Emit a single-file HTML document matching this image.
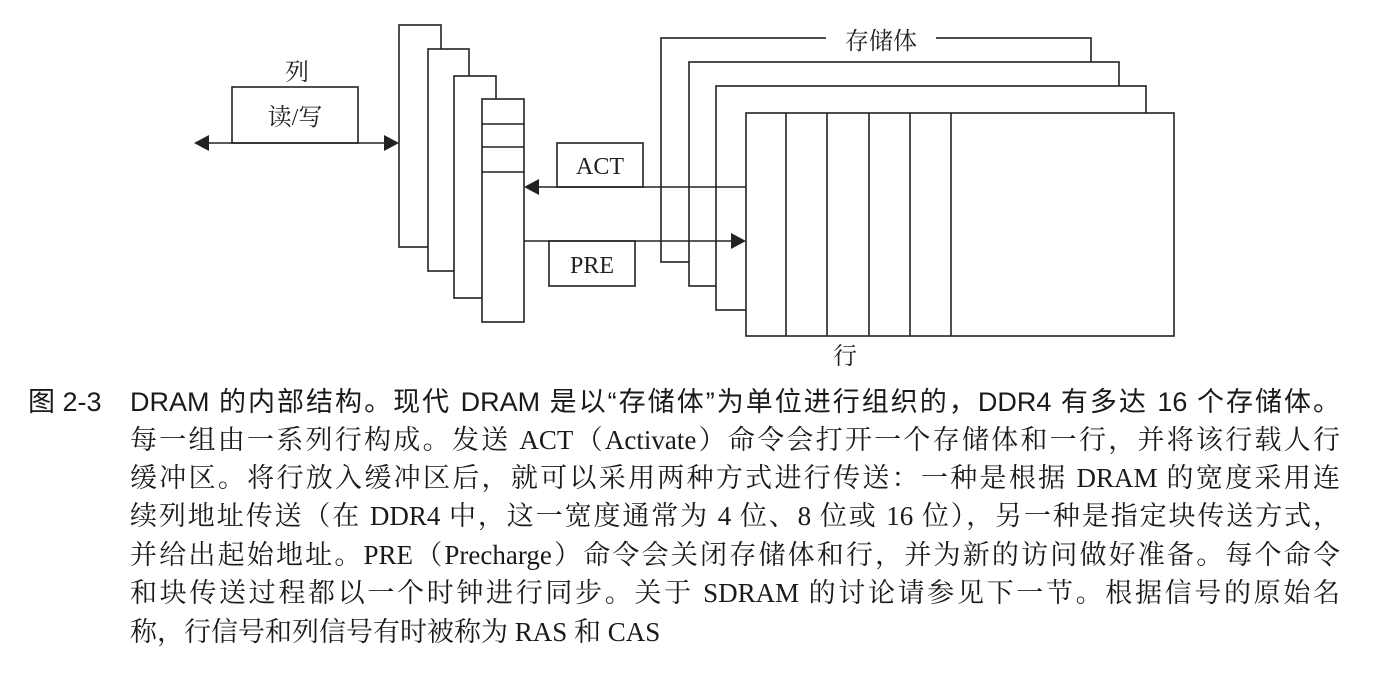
<!DOCTYPE html>
<html><head><meta charset="utf-8">
<style>
html,body{margin:0;padding:0;background:#fff;}
body{width:1384px;height:690px;position:relative;overflow:hidden;}
svg{position:absolute;left:0;top:0;}
.cap{position:absolute;color:#1a1a1a;font-size:27px;line-height:38px;white-space:nowrap;}
.sans{font-family:"Liberation Sans","Noto Sans CJK SC",sans-serif;}
.serif{font-family:"Liberation Serif","Noto Serif CJK SC",serif;}
.j{text-align:justify;text-align-last:justify;}
</style></head><body>
<svg width="1384" height="370" viewBox="0 0 1384 370">
<g stroke="#222" stroke-width="1.6" fill="#fff">
<rect x="399" y="25" width="42" height="222"/>
<rect x="428" y="49" width="41" height="222"/>
<rect x="454" y="76" width="42" height="222"/>
<rect x="482" y="99" width="42" height="223"/>
<line x1="482" y1="124" x2="524" y2="124"/>
<line x1="482" y1="147" x2="524" y2="147"/>
<line x1="482" y1="172" x2="524" y2="172"/>
<rect x="232" y="87" width="126" height="56"/>
<rect x="661" y="38" width="430" height="224"/>
<rect x="689" y="62" width="430" height="224"/>
<rect x="716" y="86" width="430" height="224"/>
<rect x="746" y="113" width="428" height="223"/>
<line x1="786" y1="113" x2="786" y2="336"/>
<line x1="827" y1="113" x2="827" y2="336"/>
<line x1="869" y1="113" x2="869" y2="336"/>
<line x1="910" y1="113" x2="910" y2="336"/>
<line x1="951" y1="113" x2="951" y2="336"/>
<rect x="557" y="143" width="86" height="44"/>
<rect x="549" y="241" width="86" height="45"/>
</g>
<rect x="826" y="30" width="110" height="18" fill="#fff"/>
<g stroke="#222" stroke-width="1.6" fill="none">
<line x1="208" y1="143" x2="385" y2="143"/>
<line x1="538" y1="187" x2="746" y2="187"/>
<line x1="524" y1="241" x2="732" y2="241"/>
</g>
<g fill="#222">
<polygon points="194,143 209,135 209,151"/>
<polygon points="399,143 384,135 384,151"/>
<polygon points="524,187 539,179 539,195"/>
<polygon points="746,241 731,233 731,249"/>
</g>
<g fill="#222" font-family="Liberation Serif, Noto Serif CJK SC, serif" font-size="24" text-anchor="middle">
<text x="297" y="80">列</text>
<text x="295" y="125">读/写</text>
<text x="600" y="174">ACT</text>
<text x="592" y="273">PRE</text>
<text x="881" y="49">存储体</text>
<text x="845" y="364">行</text>
</g>
</svg>
<div class="cap sans" style="left:28px;top:383px;">图 2-3</div>
<div class="cap sans j" style="left:130px;top:383px;width:1210px;">DRAM 的内部结构。现代 DRAM 是以“存储体”为单位进行组织的，DDR4 有多达 16 个存储体。</div>
<div class="cap serif j" style="left:130px;top:421px;width:1210px;">每一组由一系列行构成。发送 ACT（Activate）命令会打开一个存储体和一行，并将该行载人行</div>
<div class="cap serif j" style="left:130px;top:459px;width:1210px;">缓冲区。将行放入缓冲区后，就可以采用两种方式进行传送：一种是根据 DRAM 的宽度采用连</div>
<div class="cap serif j" style="left:130px;top:497px;width:1210px;">续列地址传送（在 DDR4 中，这一宽度通常为 4 位、8 位或 16 位），另一种是指定块传送方式，</div>
<div class="cap serif j" style="left:130px;top:536px;width:1210px;">并给出起始地址。PRE（Precharge）命令会关闭存储体和行，并为新的访问做好准备。每个命令</div>
<div class="cap serif j" style="left:130px;top:574px;width:1210px;">和块传送过程都以一个时钟进行同步。关于 SDRAM 的讨论请参见下一节。根据信号的原始名</div>
<div class="cap serif" style="left:130px;top:613px;">称，行信号和列信号有时被称为 RAS 和 CAS</div>
</body></html>
